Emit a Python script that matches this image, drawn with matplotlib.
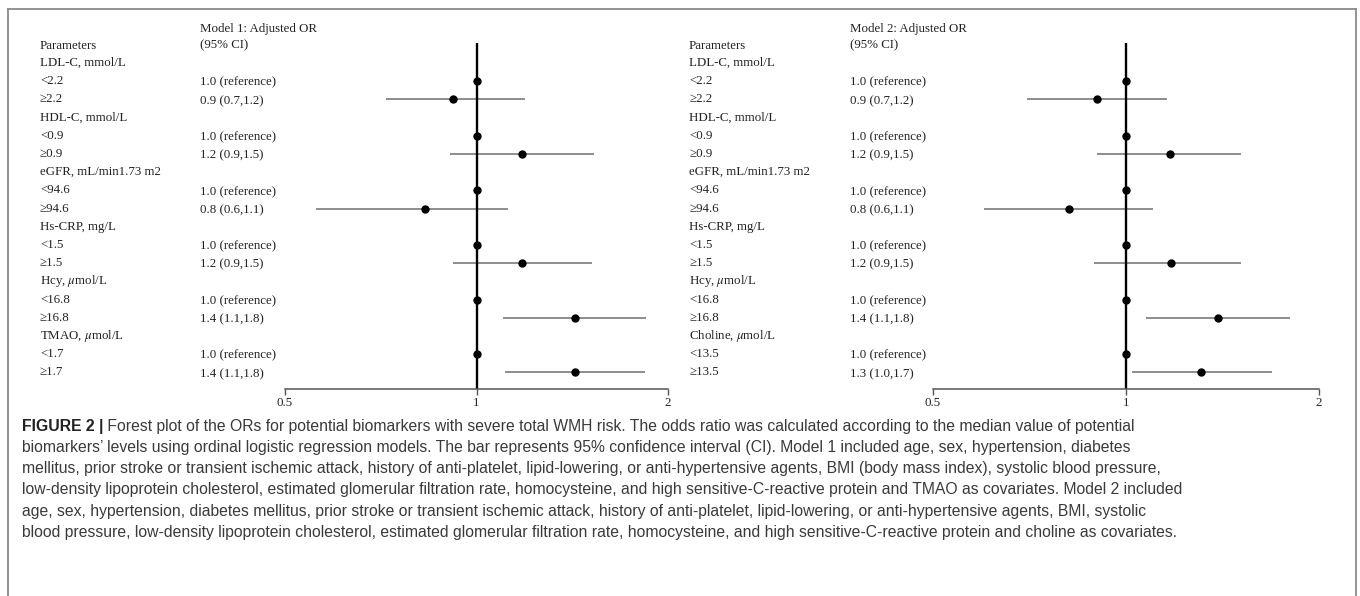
import numpy as np
import matplotlib
matplotlib.use("Agg")
import matplotlib.pyplot as plt
import matplotlib.transforms as mtransforms
from matplotlib.lines import Line2D

plt.rcParams['mathtext.fontset'] = 'stix'

SERIF = ['Liberation Serif', 'DejaVu Serif']
SANS = ['Liberation Sans', 'DejaVu Sans']

nan = np.nan

# ---------------- data ----------------
labels_m1 = ["LDL-C, mmol/L", "<2.2", "≥2.2", "HDL-C, mmol/L", "<0.9", "≥0.9",
             "eGFR, mL/min1.73 m2", "<94.6", "≥94.6", "Hs-CRP, mg/L", "<1.5", "≥1.5",
             r"Hcy, $\mu$mol/L", "<16.8", "≥16.8", r"TMAO, $\mu$mol/L", "<1.7", "≥1.7"]
labels_m2 = ["LDL-C, mmol/L", "<2.2", "≥2.2", "HDL-C, mmol/L", "<0.9", "≥0.9",
             "eGFR, mL/min1.73 m2", "<94.6", "≥94.6", "Hs-CRP, mg/L", "<1.5", "≥1.5",
             r"Hcy, $\mu$mol/L", "<16.8", "≥16.8", r"Choline, $\mu$mol/L", "<13.5", "≥13.5"]

or_text_m1 = ["", "1.0 (reference)", "0.9 (0.7,1.2)", "", "1.0 (reference)", "1.2 (0.9,1.5)",
              "", "1.0 (reference)", "0.8 (0.6,1.1)", "", "1.0 (reference)", "1.2 (0.9,1.5)",
              "", "1.0 (reference)", "1.4 (1.1,1.8)", "", "1.0 (reference)", "1.4 (1.1,1.8)"]
or_text_m2 = ["", "1.0 (reference)", "0.9 (0.7,1.2)", "", "1.0 (reference)", "1.2 (0.9,1.5)",
              "", "1.0 (reference)", "0.8 (0.6,1.1)", "", "1.0 (reference)", "1.2 (0.9,1.5)",
              "", "1.0 (reference)", "1.4 (1.1,1.8)", "", "1.0 (reference)", "1.3 (1.0,1.7)"]

est_m1 = [nan, 1.0, 0.92, nan, 1.0, 1.18, nan, 1.0, 0.83, nan, 1.0, 1.18, nan, 1.0, 1.43, nan, 1.0, 1.43]
lo_m1 = [nan, nan, 0.72, nan, nan, 0.91, nan, nan, 0.56, nan, nan, 0.92, nan, nan, 1.10, nan, nan, 1.11]
hi_m1 = [nan, nan, 1.19, nan, nan, 1.53, nan, nan, 1.12, nan, nan, 1.52, nan, nan, 1.85, nan, nan, 1.84]

est_m2 = [nan, 1.0, 0.90, nan, 1.0, 1.17, nan, 1.0, 0.815, nan, 1.0, 1.175, nan, 1.0, 1.39, nan, 1.0, 1.31]
lo_m2 = [nan, nan, 0.70, nan, nan, 0.90, nan, nan, 0.60, nan, nan, 0.89, nan, nan, 1.075, nan, nan, 1.02]
hi_m2 = [nan, nan, 1.16, nan, nan, 1.51, nan, nan, 1.10, nan, nan, 1.51, nan, nan, 1.80, nan, nan, 1.69]

model_titles = ["Model 1: Adjusted OR", "Model 2: Adjusted OR"]
ci_header = "(95% CI)"
param_header = "Parameters"
x_ticks = [0.5, 1, 2]
x_tick_labels = ["0.5", "1", "2"]

caption_bold = "FIGURE 2 |"
caption_lines = [
    " Forest plot of the ORs for potential biomarkers with severe total WMH risk. The odds ratio was calculated according to the median value of potential",
    "biomarkers\u2019 levels using ordinal logistic regression models. The bar represents 95% confidence interval (CI). Model 1 included age, sex, hypertension, diabetes",
    "mellitus, prior stroke or transient ischemic attack, history of anti-platelet, lipid-lowering, or anti-hypertensive agents, BMI (body mass index), systolic blood pressure,",
    "low-density lipoprotein cholesterol, estimated glomerular filtration rate, homocysteine, and high sensitive-C-reactive protein and TMAO as covariates. Model 2 included",
    "age, sex, hypertension, diabetes mellitus, prior stroke or transient ischemic attack, history of anti-platelet, lipid-lowering, or anti-hypertensive agents, BMI, systolic",
    "blood pressure, low-density lipoprotein cholesterol, estimated glomerular filtration rate, homocysteine, and high sensitive-C-reactive protein and choline as covariates.",
]

# ---------------- figure ----------------
W, H = 1360, 596
fig = plt.figure(figsize=(W / 100, H / 100), dpi=100)
fig.patch.set_facecolor("white")


def fx(px):
    return px / W


def fy(py):
    return 1 - py / H


TEXT_C = "#222222"
FS = 9.3


def panel(ax_left_px, ax_right_px, label_x_px, or_x_px, labels, or_texts, est, lo, hi, title):
    ax_bottom_px, ax_top_px = 389, 43
    ax = fig.add_axes([fx(ax_left_px), fy(ax_bottom_px), fx(ax_right_px - ax_left_px),
                       (ax_bottom_px - ax_top_px) / H])
    ax.set_xscale("log")
    ax.set_xlim(0.5, 2)
    n = len(labels)
    row_step = 18.2
    first_row_px = 63.0
    ax.set_ylim((ax_bottom_px - first_row_px) / row_step, (ax_top_px - first_row_px) / row_step)
    ax.patch.set_alpha(0)
    for s in ["top", "right", "left"]:
        ax.spines[s].set_visible(False)
    ax.spines["bottom"].set_color("#555555")
    ax.spines["bottom"].set_linewidth(1.1)
    ax.set_yticks([])
    ax.xaxis.set_minor_locator(matplotlib.ticker.NullLocator())
    ax.set_xticks(x_ticks)
    ax.set_xticklabels(x_tick_labels, family=SERIF, fontsize=FS, color=TEXT_C)
    ax.tick_params(axis="x", direction="out", length=4, width=1, color="#555555", pad=1.5)

    ax.axvline(1, color="black", lw=1.7, zorder=2)
    ys = np.arange(n)
    est_a = np.array(est, dtype=float)
    lo_a = np.array(lo, dtype=float)
    hi_a = np.array(hi, dtype=float)
    ci_mask = ~np.isnan(lo_a)
    ax.hlines(ys[ci_mask], lo_a[ci_mask], hi_a[ci_mask], color="#7a7a7a", lw=1.2, zorder=1)
    pt_mask = ~np.isnan(est_a)
    ax.plot(est_a[pt_mask], ys[pt_mask], "o", color="black", ms=5, zorder=3, clip_on=False)

    tr = mtransforms.blended_transform_factory(fig.transFigure, ax.transData)
    for i, (lab, ort) in enumerate(zip(labels, or_texts)):
        fig.text(fx(label_x_px), i, lab, transform=tr, family=SERIF, fontsize=FS,
                 color=TEXT_C, va="center", ha="left")
        if ort:
            fig.text(fx(or_x_px), i + 0.08, ort, transform=tr, family=SERIF, fontsize=FS,
                     color=TEXT_C, va="center", ha="left")
    fig.text(fx(label_x_px), -0.95, param_header, transform=tr, family=SERIF, fontsize=FS,
             color=TEXT_C, va="center", ha="left")
    fig.text(fx(or_x_px), -0.95, ci_header, transform=tr, family=SERIF, fontsize=FS,
             color=TEXT_C, va="center", ha="left")
    fig.text(fx(or_x_px), -1.85, title, transform=tr, family=SERIF, fontsize=FS,
             color=TEXT_C, va="center", ha="left")
    return ax


panel(285, 668, 40, 200, labels_m1, or_text_m1, est_m1, lo_m1, hi_m1, model_titles[0])
panel(933, 1319, 689, 850, labels_m2, or_text_m2, est_m2, lo_m2, hi_m2, model_titles[1])

# ---------------- frame ----------------
frame_c = "#8a8a8a"
fig.add_artist(Line2D([fx(8), fx(8)], [0, fy(9)], color=frame_c, lw=1.3, transform=fig.transFigure))
fig.add_artist(Line2D([fx(1355.5), fx(1355.5)], [0, fy(9)], color=frame_c, lw=1.3, transform=fig.transFigure))
fig.add_artist(Line2D([fx(8), fx(1355.5)], [fy(9), fy(9)], color=frame_c, lw=1.3, transform=fig.transFigure))

# ---------------- caption ----------------
CAP_C = "#3a3a3a"
renderer = fig.canvas.get_renderer()
probe = fig.text(0, 0, caption_lines[3], family=SANS, fontsize=10)
w10 = probe.get_window_extent(renderer).width
probe.remove()
cap_fs = 10 * (1188 - 22) / w10

x0 = fx(22)
base0 = 430.5
step = 21.3
tb = fig.text(x0, fy(base0), caption_bold, family=SANS, fontsize=cap_fs, weight="bold",
              color="#222222", va="baseline", ha="left")
bx1 = tb.get_window_extent(renderer).x1
for k, line in enumerate(caption_lines):
    xx = bx1 / W if k == 0 else x0
    fig.text(xx, fy(base0 + step * k), line, family=SANS, fontsize=cap_fs,
             color=CAP_C, va="baseline", ha="left")

fig.savefig("out.png", dpi=100, facecolor="white")
